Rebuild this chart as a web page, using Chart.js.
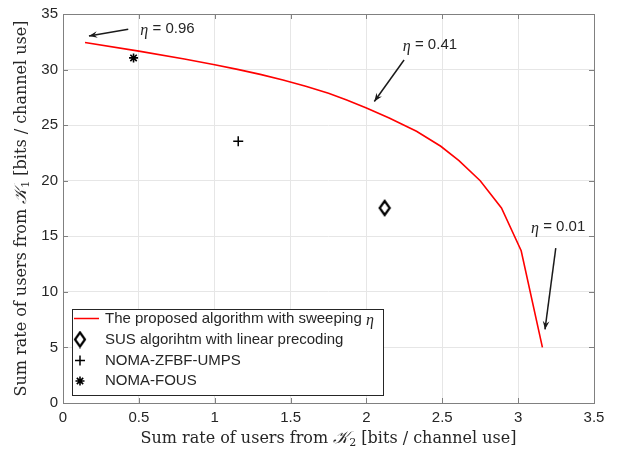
<!DOCTYPE html>
<html>
<head>
<meta charset="utf-8">
<script src="https://cdn.jsdelivr.net/npm/chart.js@4.4.1/dist/chart.umd.min.js"></script>
<style>
html,body{margin:0;padding:0;background:#fff;}
#wrap{width:618px;height:453px;position:relative;}
</style>
</head>
<body>
<div id="wrap"><canvas id="c" width="618" height="453"></canvas></div>
<script>
// ---- data ----
const curveX = [0.145, 0.5, 0.8, 1.0, 1.15, 1.3, 1.45, 1.6, 1.75, 1.87, 2.0, 2.15, 2.33, 2.49, 2.61, 2.75, 2.89, 3.02, 3.16];
const curveY = [32.43, 31.66, 30.95, 30.43, 30.02, 29.57, 29.06, 28.5, 27.86, 27.27, 26.55, 25.65, 24.45, 23.1, 21.8, 20.0, 17.55, 13.7, 5.0];
const susX = [2.12];
const susY = [17.55];
const zfbfX = [1.155];
const zfbfY = [23.55];
const fousX = [0.465];
const fousY = [31.05];
const seriesLabels = [
  'The proposed algorithm with sweeping η',
  'SUS algorihtm with linear precoding',
  'NOMA-ZFBF-UMPS',
  'NOMA-FOUS'
];
const xTicks = [0, 0.5, 1, 1.5, 2, 2.5, 3, 3.5];
const yTicks = [0, 5, 10, 15, 20, 25, 30, 35];
// annotations (data units)
const etaValues = ['0.96', '0.41', '0.01'];
const etaTextX = [0.51, 2.24, 3.085];
const etaTextY = [33.7, 32.2, 15.85];
const arrowTailX = [0.43, 2.248, 3.248];
const arrowTailY = [33.63, 30.86, 13.94];
const arrowHeadX = [0.171, 2.052, 3.177];
const arrowHeadY = [33.03, 27.13, 6.62];

const toPts = (xs, ys) => xs.map((x, i) => ({x: x, y: ys[i]}));

const AXIS_COLOR = '#808080';
const TEXT_COLOR = '#262626';
const SANS = '"Liberation Sans", Arial, sans-serif';
const SERIF = '"DejaVu Serif", "Liberation Serif", serif';

// tall outlined diamond marker (MATLAB style)
function makeDiamond() {
  const c = document.createElement('canvas');
  c.width = 14; c.height = 18;
  const g = c.getContext('2d');
  g.strokeStyle = '#000'; g.lineWidth = 2.2;
  g.beginPath();
  g.moveTo(7, 2); g.lineTo(12, 9); g.lineTo(7, 16); g.lineTo(2, 9); g.closePath();
  g.stroke();
  return c;
}
const diamondImg = makeDiamond();

function drawSegments(ctx, segs, cx, cy) {
  let total = 0;
  segs.forEach(s => { ctx.font = s.font; s.w = ctx.measureText(s.t).width; total += s.w; });
  let x = cx - total / 2;
  segs.forEach(s => {
    ctx.font = s.font;
    ctx.fillText(s.t, x, cy + (s.dy || 0));
    x += s.w;
  });
}

const framePlugin = {
  id: 'frame',
  afterDraw(chart) {
    const ctx = chart.ctx;
    const a = chart.chartArea;
    const xs = chart.scales.x, ys = chart.scales.y;
    ctx.save();
    // box
    ctx.strokeStyle = AXIS_COLOR;
    ctx.lineWidth = 1;
    ctx.strokeRect(Math.round(a.left) + 0.5, Math.round(a.top) + 0.5, Math.round(a.right - a.left), Math.round(a.bottom - a.top));
    // inward ticks
    const tl = 5;
    ctx.beginPath();
    xTicks.forEach(v => {
      const px = Math.round(xs.getPixelForValue(v)) + 0.5;
      ctx.moveTo(px, a.bottom); ctx.lineTo(px, a.bottom - tl);
      ctx.moveTo(px, a.top); ctx.lineTo(px, a.top + tl);
    });
    yTicks.forEach(v => {
      const py = Math.round(ys.getPixelForValue(v)) + 0.5;
      ctx.moveTo(a.left, py); ctx.lineTo(a.left + tl, py);
      ctx.moveTo(a.right, py); ctx.lineTo(a.right - tl, py);
    });
    ctx.stroke();

    // arrows + eta labels
    ctx.strokeStyle = '#1a1a1a';
    ctx.fillStyle = '#1a1a1a';
    ctx.lineWidth = 1.5;
    for (let i = 0; i < etaValues.length; i++) {
      const x1 = xs.getPixelForValue(arrowTailX[i]), y1 = ys.getPixelForValue(arrowTailY[i]);
      const x2 = xs.getPixelForValue(arrowHeadX[i]), y2 = ys.getPixelForValue(arrowHeadY[i]);
      const ang = Math.atan2(y2 - y1, x2 - x1);
      ctx.fillStyle = '#1a1a1a';
      ctx.beginPath(); ctx.moveTo(x1, y1); ctx.lineTo(x2, y2); ctx.stroke();
      const hl = 9, hw = 0.38;
      ctx.beginPath();
      ctx.moveTo(x2, y2);
      ctx.lineTo(x2 - hl * Math.cos(ang - hw), y2 - hl * Math.sin(ang - hw));
      ctx.lineTo(x2 - hl * 0.6 * Math.cos(ang), y2 - hl * 0.6 * Math.sin(ang));
      ctx.lineTo(x2 - hl * Math.cos(ang + hw), y2 - hl * Math.sin(ang + hw));
      ctx.closePath(); ctx.fill();
      const tx = xs.getPixelForValue(etaTextX[i]), ty = ys.getPixelForValue(etaTextY[i]);
      ctx.textBaseline = 'middle'; ctx.textAlign = 'left';
      ctx.fillStyle = TEXT_COLOR;
      ctx.font = 'italic 16px "Liberation Serif", serif';
      ctx.fillText('η', tx, ty + 2);
      const w = ctx.measureText('η').width;
      ctx.font = '15px ' + SANS;
      ctx.fillText(' = ' + etaValues[i], tx + w, ty);
    }

    // legend
    const lx = 72, ly = 309, lw = 311, lh = 86;
    ctx.fillStyle = '#fff';
    ctx.fillRect(lx, ly, lw, lh);
    ctx.strokeStyle = '#262626'; ctx.lineWidth = 1;
    ctx.strokeRect(lx + 0.5, ly + 0.5, lw, lh);
    const rowY = [318.5, 339.5, 360.5, 381];
    ctx.textBaseline = 'middle'; ctx.textAlign = 'left';
    for (let i = 0; i < seriesLabels.length; i++) {
      const y = rowY[i];
      ctx.strokeStyle = i === 0 ? '#ff0000' : '#000';
      ctx.fillStyle = '#fff';
      if (i === 0) {
        ctx.lineWidth = 1.5;
        ctx.beginPath(); ctx.moveTo(74, y); ctx.lineTo(99, y); ctx.stroke();
      } else {
        const ds = chart.data.datasets[i];
        ctx.lineWidth = ds.borderWidth;
        Chart.helpers.drawPoint(ctx, {
          pointStyle: ds.pointStyle, radius: ds.pointRadius, rotation: 0, borderWidth: ds.borderWidth
        }, 80, y);
      }
      ctx.fillStyle = TEXT_COLOR;
      let label = seriesLabels[i];
      if (i === 0) {
        const base = label.slice(0, -1);
        ctx.font = '15px ' + SANS;
        ctx.fillText(base, 105, y);
        const w = ctx.measureText(base).width;
        ctx.font = 'italic 16px "Liberation Serif", serif';
        ctx.fillText('η', 105 + w, y + 2);
      } else {
        ctx.font = '15px ' + SANS;
        ctx.fillText(label, 105, y);
      }
    }

    // axis titles
    ctx.fillStyle = TEXT_COLOR;
    ctx.textBaseline = 'middle';
    ctx.textAlign = 'left';
    const tf = '16px ' + SERIF;
    const kf = 'italic 17px "DejaVu Serif", serif';
    const sf = '11px ' + SERIF;
    drawSegments(ctx, [
      {t: 'Sum rate of users from ', font: tf},
      {t: '𝒦', font: kf},
      {t: '2', font: sf, dy: 4},
      {t: ' [bits / channel use]', font: tf}
    ], (a.left + a.right) / 2, 439);
    ctx.save();
    ctx.translate(22, (a.top + a.bottom) / 2);
    ctx.rotate(-Math.PI / 2);
    drawSegments(ctx, [
      {t: 'Sum rate of users from ', font: tf},
      {t: '𝒦', font: kf},
      {t: '1', font: sf, dy: 4},
      {t: ' [bits / channel use]', font: tf}
    ], 0, 0);
    ctx.restore();
    ctx.restore();
  }
};

new Chart(document.getElementById('c'), {
  type: 'scatter',
  data: {
    datasets: [
      {label: seriesLabels[0], data: toPts(curveX, curveY), showLine: true, borderColor: '#ff0000', borderWidth: 1.6, pointRadius: 0, fill: false, tension: 0},
      {label: seriesLabels[1], data: toPts(susX, susY), pointStyle: diamondImg, pointRadius: 7, borderWidth: 2, borderColor: '#000', backgroundColor: 'rgba(0,0,0,0)'},
      {label: seriesLabels[2], data: toPts(zfbfX, zfbfY), pointStyle: 'cross', pointRadius: 5, borderWidth: 1.5, borderColor: '#000', backgroundColor: 'rgba(0,0,0,0)'},
      {label: seriesLabels[3], data: toPts(fousX, fousY), pointStyle: 'star', pointRadius: 4.5, borderWidth: 1.6, borderColor: '#000', backgroundColor: 'rgba(0,0,0,0)'}
    ]
  },
  options: {
    responsive: false,
    animation: false,
    devicePixelRatio: 1,
    layout: {padding: {left: 0, top: 12, right: 24, bottom: 0}},
    plugins: {legend: {display: false}, tooltip: {enabled: false}},
    scales: {
      x: {
        type: 'linear', min: 0, max: 3.5,
        afterBuildTicks: s => { s.ticks = xTicks.map(v => ({value: v})); },
        afterFit: s => { s.height = 50; },
        grid: {color: '#e6e6e6', drawTicks: false, lineWidth: 1},
        border: {display: false},
        ticks: {color: TEXT_COLOR, font: {family: SANS, size: 15}, padding: 6, maxRotation: 0,
          callback: v => String(v)}
      },
      y: {
        type: 'linear', min: 0, max: 35,
        afterBuildTicks: s => { s.ticks = yTicks.map(v => ({value: v})); },
        afterFit: s => { s.width = 63; },
        grid: {color: '#e6e6e6', drawTicks: false, lineWidth: 1},
        border: {display: false},
        ticks: {color: TEXT_COLOR, font: {family: SANS, size: 15}, padding: 5,
          callback: v => String(v)}
      }
    }
  },
  plugins: [framePlugin]
});
</script>
</body>
</html>
